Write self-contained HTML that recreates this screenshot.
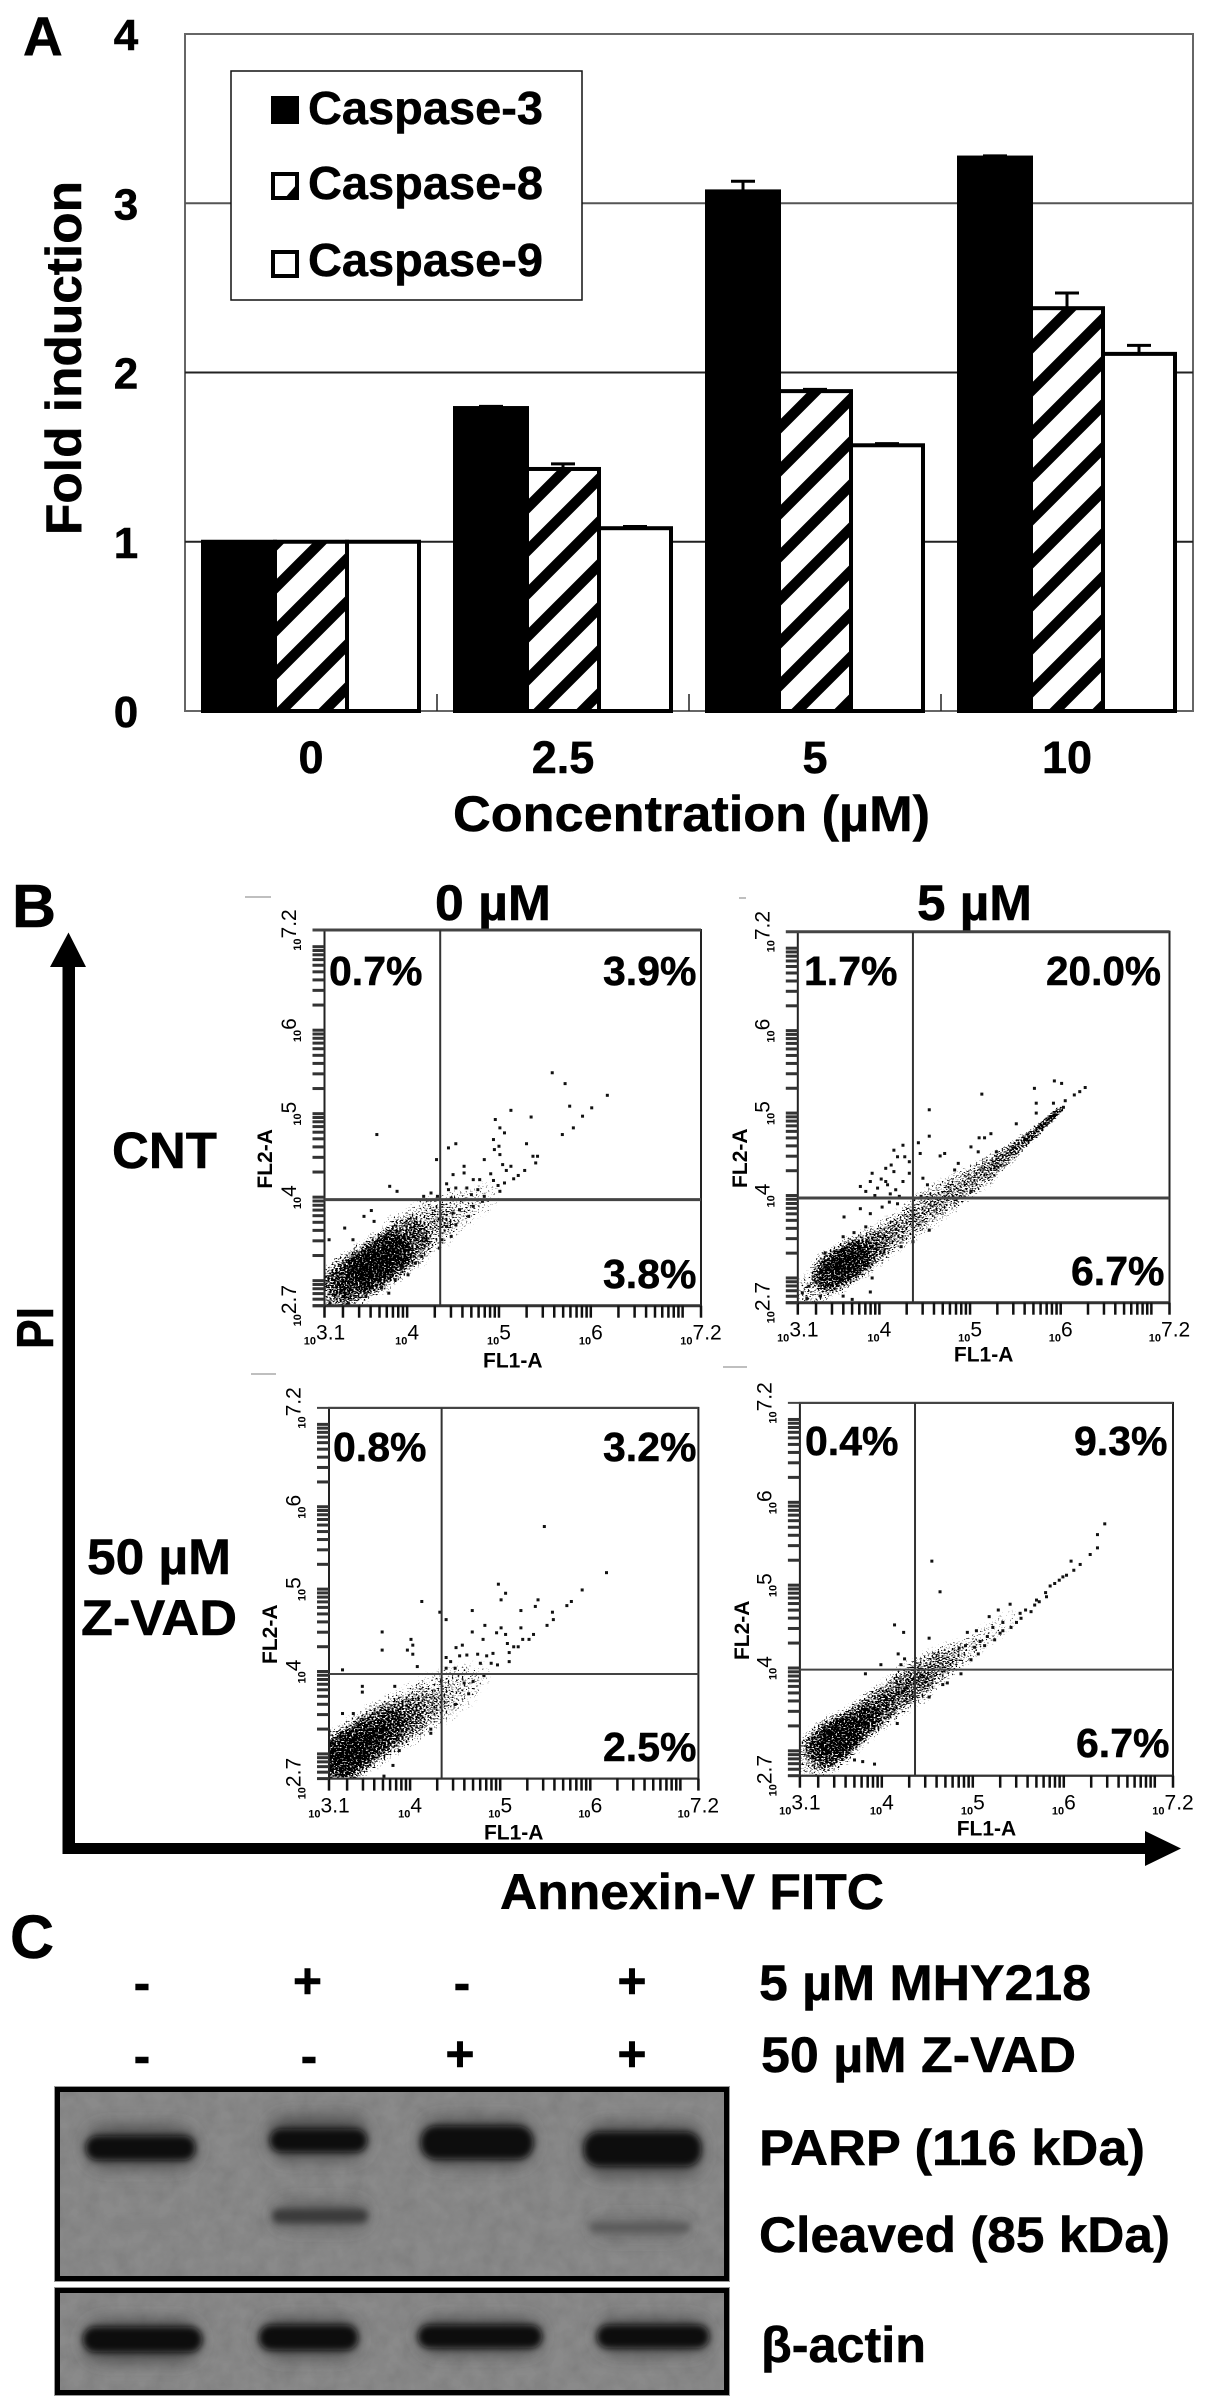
<!DOCTYPE html>
<html lang="en">
<head>
<meta charset="utf-8">
<title>Caspase induction, Annexin-V flow cytometry and PARP western blot</title>
<style>
html,body{margin:0;padding:0;background:#fff;}
svg{display:block;}
text{font-family:"Liberation Sans",Arial,sans-serif;font-weight:bold;fill:#000;stroke:#000;stroke-width:0.5px;}
#flowPlots text{stroke:none;}
.pct{font-size:41px;}
.blotlabel{font-size:50px;}
</style>
</head>
<body>
<svg id="figure" xmlns="http://www.w3.org/2000/svg" width="1205" height="2408" viewBox="0 0 1205 2408">
<defs>
<pattern id="hatch" patternUnits="userSpaceOnUse" width="43" height="43" patternTransform="translate(3 0)">
<rect width="43" height="43" fill="#fff"/>
<path d="M-10.75 10.75L10.75 -10.75M0 43L43 0M32.25 53.75L53.75 32.25" stroke="#000" stroke-width="10.5"/>
</pattern>
<radialGradient id="cloudFill">
<stop offset="0" stop-color="#000" stop-opacity="1"/>
<stop offset="0.6" stop-color="#000" stop-opacity="0.8"/>
<stop offset="1" stop-color="#000" stop-opacity="0"/>
</radialGradient>
<filter id="blur3" x="-30%" y="-100%" width="160%" height="300%"><feGaussianBlur stdDeviation="3.5"/></filter>
<filter id="blur9" x="-40%" y="-150%" width="180%" height="400%"><feGaussianBlur stdDeviation="9"/></filter>
<filter id="blotNoise" x="0" y="0" width="100%" height="100%" color-interpolation-filters="sRGB">
<feTurbulence type="fractalNoise" baseFrequency="0.06" numOctaves="3" seed="4"/>
<feColorMatrix values="0 0 0 0 0  0 0 0 0 0  0 0 0 0 0  1.2 0 0 0 -0.35"/>
</filter>
</defs>

<!-- Panel A -->
<g id="panel-a">
<text x="23" y="55" font-size="55">A</text>
<g id="barAxes"></g>
<g id="bars"></g>
<text transform="translate(81 358) rotate(-90)" text-anchor="middle" font-size="50" textLength="354" lengthAdjust="spacingAndGlyphs">Fold induction</text>
<text x="453" y="831" font-size="50" textLength="477" lengthAdjust="spacingAndGlyphs">Concentration (µM)</text>
<g>
<rect x="231" y="71" width="351" height="229" fill="#fff" stroke="#111" stroke-width="1.5"/>
<g>
<rect x="273" y="98" width="24" height="24" fill="#000" stroke="#000" stroke-width="4"/>
<text x="308" y="124" font-size="46" textLength="235" lengthAdjust="spacingAndGlyphs">Caspase-3</text>
</g>
<g>
<rect x="273" y="174" width="24" height="24" fill="#fff" stroke="#000" stroke-width="4"/>
<path d="M297 184L285 198L297 198Z" fill="#000"/>
<text x="308" y="199" font-size="46" textLength="235" lengthAdjust="spacingAndGlyphs">Caspase-8</text>
</g>
<g>
<rect x="273" y="252" width="24" height="24" fill="#fff" stroke="#000" stroke-width="4"/>
<text x="308" y="276" font-size="46" textLength="235" lengthAdjust="spacingAndGlyphs">Caspase-9</text>
</g>
</g>
</g>

<!-- Panel B -->
<g id="panel-b">
<text x="12" y="927" font-size="61">B</text>
<text x="435" y="920" font-size="50" textLength="116" lengthAdjust="spacingAndGlyphs">0 µM</text>
<text x="917" y="920" font-size="50" textLength="115" lengthAdjust="spacingAndGlyphs">5 µM</text>
<text x="112" y="1168" font-size="51" textLength="105" lengthAdjust="spacingAndGlyphs">CNT</text>
<text x="87" y="1574" font-size="50" textLength="144" lengthAdjust="spacingAndGlyphs">50 µM</text>
<text x="81" y="1635" font-size="50" textLength="156" lengthAdjust="spacingAndGlyphs">Z-VAD</text>
<path d="M62.5 967H50L68.5 932.5L86 967H75V1843H1145V1831L1181 1848.500L1145 1866V1854H62.500Z" fill="#000"/>
<text transform="translate(53 1349) rotate(-90)" font-size="52" textLength="42" lengthAdjust="spacingAndGlyphs">PI</text>
<text x="500" y="1909" font-size="50" textLength="384" lengthAdjust="spacingAndGlyphs">Annexin-V FITC</text>
<path d="M245 897H271M251 1374H276M739 898H746M723 1367H747" stroke="#aaa" stroke-width="1.5" fill="none"/>
<g id="flowPlots"></g>
<text class="pct" x="329" y="985">0.7%</text>
<text class="pct" x="603" y="985">3.9%</text>
<text class="pct" x="603" y="1288">3.8%</text>
<text class="pct" x="804" y="985">1.7%</text>
<text class="pct" x="1046" y="985" textLength="115" lengthAdjust="spacingAndGlyphs">20.0%</text>
<text class="pct" x="1071" y="1285">6.7%</text>
<text class="pct" x="333" y="1461">0.8%</text>
<text class="pct" x="603" y="1461">3.2%</text>
<text class="pct" x="603" y="1761">2.5%</text>
<text class="pct" x="805" y="1455">0.4%</text>
<text class="pct" x="1074" y="1455">9.3%</text>
<text class="pct" x="1076" y="1757">6.7%</text>
</g>

<!-- Panel C -->
<g id="panel-c">
<text x="10" y="1958" font-size="61">C</text>
<g font-size="50" text-anchor="middle">
<text x="142" y="2000">-</text>
<text x="307.500" y="1998">+</text>
<text x="462" y="2000">-</text>
<text x="632" y="1998">+</text>
<text x="142" y="2073">-</text>
<text x="309" y="2073">-</text>
<text x="460" y="2071">+</text>
<text x="632" y="2071">+</text>
</g>
<text class="blotlabel" x="759" y="2000" textLength="332" lengthAdjust="spacingAndGlyphs">5 µM MHY218</text>
<text class="blotlabel" x="761" y="2072" textLength="315" lengthAdjust="spacingAndGlyphs">50 µM Z-VAD</text>
<text class="blotlabel" x="759" y="2165" textLength="386" lengthAdjust="spacingAndGlyphs">PARP (116 kDa)</text>
<text class="blotlabel" x="759" y="2252" textLength="411" lengthAdjust="spacingAndGlyphs">Cleaved (85 kDa)</text>
<text class="blotlabel" x="761" y="2362" textLength="165" lengthAdjust="spacingAndGlyphs">β-actin</text>

<g>
<rect x="54" y="2086" width="676" height="196" fill="#999"/>
<rect x="55" y="2087" width="674" height="194" fill="#000"/>
<rect x="60" y="2092" width="664" height="184" fill="#8a8a8a"/>
<rect x="60" y="2092" width="664" height="184" filter="url(#blotNoise)" opacity="0.1"/>
<g filter="url(#blur9)" fill="#444">
<rect x="88" y="2128" width="106" height="38" rx="16"/>
<rect x="270" y="2118" width="96" height="40" rx="16"/>
<rect x="422" y="2120" width="110" height="44" rx="18"/>
<rect x="585" y="2126" width="116" height="48" rx="18"/>
<rect x="275" y="2202" width="92" height="26" rx="12" opacity="0.6"/>
<rect x="592" y="2218" width="96" height="20" rx="10" opacity="0.45"/>
</g>
<g filter="url(#blur3)">
<rect x="86" y="2136" width="109" height="24" rx="11" fill="#111"/>
<rect x="270" y="2129" width="97" height="23" rx="11" fill="#111"/>
<rect x="421" y="2126" width="112" height="33" rx="15" fill="#0f0f0f"/>
<rect x="584" y="2132" width="117" height="34" rx="15" fill="#0f0f0f"/>
<rect x="272" y="2209" width="96" height="14" rx="7" fill="#3a3a3a"/>
<rect x="590" y="2223" width="100" height="9" rx="4" fill="#5a5a5a"/>
<rect x="110" y="2220" width="70" height="9" rx="3" fill="#838383"/>
</g>
</g>

<g>
<rect x="54" y="2287" width="676" height="109" fill="#999"/>
<rect x="55" y="2288" width="674" height="107" fill="#000"/>
<rect x="60" y="2293" width="664" height="97" fill="#8a8a8a"/>
<rect x="60" y="2293" width="664" height="97" filter="url(#blotNoise)" opacity="0.1"/>
<g filter="url(#blur9)" fill="#444">
<rect x="86" y="2322" width="112" height="38" rx="16"/>
<rect x="262" y="2320" width="94" height="36" rx="16"/>
<rect x="421" y="2320" width="118" height="32" rx="14"/>
<rect x="600" y="2320" width="106" height="32" rx="14"/>
</g>
<g filter="url(#blur3)" fill="#111">
<rect x="83" y="2327" width="119" height="25" rx="12"/>
<rect x="259" y="2325" width="99" height="25" rx="12"/>
<rect x="418" y="2325" width="124" height="23" rx="11"/>
<rect x="597" y="2325" width="112" height="23" rx="11"/>
</g>
</g>
</g>
</svg>

<script>
/* ---------- Panel A data ---------- */
const concentrations = ["0", "2.5", "5", "10"];
const foldTicks = [0, 1, 2, 3, 4];
const caspase3 = [1, 1.79, 3.07, 3.27];
const caspase8 = [1, 1.43, 1.89, 2.38];
const caspase9 = [1, 1.08, 1.57, 2.11];
const caspase3Err = [0, 0.01, 0.06, 0.01];
const caspase8Err = [0, 0.03, 0.01, 0.09];
const caspase9Err = [0, 0.01, 0.01, 0.05];

/* ---------- Panel B data: events are [log10 FL1, log10 FL2] ---------- */
const xDecades = [3, 4, 5, 6];
const yDecades = [2, 3, 4, 5, 6];
const logMultipliers = [1, 2, 3, 4, 5, 6, 7, 8, 9];
const xTickLabels = ["3.1", "4", "5", "6", "7.2"];
const xTickValues = [3.1, 4, 5, 6, 7.2];
const yTickLabels = ["2.7", "4", "5", "6", "7.2"];
const yTickValues = [2.7, 4, 5, 6, 7.2];
const gateX = [4.36, 4.37, 4.35, 4.365];
const gateY = [3.97, 3.97, 3.97, 3.98];

const eventsCnt0 = [[5.58,5.49],[5.72,5.36],[6.18,5.22],[5.77,5.09],[6.01,5.07],[5.91,4.97],[5.13,5.04],[5.35,4.96],[4.96,4.93],[5.01,4.83],[5.06,4.77],[5.81,4.83],[5.69,4.75],[3.67,4.75],[4.94,4.69],[4.53,4.64],[4.45,4.59],[5.00,4.61],[4.95,4.57],[5.30,4.64],[5.42,4.49],[5.37,4.49],[5.40,4.41],[4.84,4.45],[5.01,4.51],[4.32,4.45],[5.04,4.39],[4.62,4.37],[4.62,4.29],[4.50,4.27],[5.13,4.37],[5.28,4.32],[4.91,4.28],[5.08,4.32],[5.21,4.26],[5.16,4.22],[4.72,4.21],[4.79,4.21],[4.94,4.20],[4.43,4.16],[4.53,4.11],[4.65,4.11],[4.99,4.14],[5.06,4.17],[3.81,4.13],[3.89,4.07],[4.26,4.05],[4.45,4.09],[4.77,4.09],[5.01,4.07],[4.70,4.03],[4.84,4.01],[4.18,4.01],[4.33,4.01],[4.48,3.99],[4.62,3.97],[4.82,3.95],[4.72,3.89],[4.57,3.85],[4.67,3.77],[4.50,3.81],[3.61,3.84],[3.53,3.77],[3.64,3.71],[3.32,3.63],[3.15,3.49],[3.41,3.49],[4.43,3.65],[4.53,3.67],[4.48,3.53],[4.38,3.49],[4.35,3.39],[4.16,3.29],[4.09,3.21],[4.01,3.07],[3.87,3.01],[3.80,2.85],[3.55,2.81],[3.36,2.73],[3.16,2.73],[3.72,2.91],[3.94,3.15]];
const cloudCnt0 = [[3.2,2.88,0.28,0.32,0.55],[3.4,3.02,0.32,0.36,0.8],[3.6,3.15,0.32,0.36,0.95],[3.8,3.3,0.32,0.36,0.95],[4.0,3.48,0.32,0.38,0.7],[4.25,3.68,0.32,0.36,0.42],[4.5,3.82,0.32,0.3,0.32],[4.8,3.97,0.28,0.2,0.2]];

const eventsCnt5 = [[5.13,5.23],[5.71,5.30],[5.93,5.39],[6.01,5.36],[6.27,5.31],[6.21,5.26],[6.15,5.22],[6.05,5.15],[6.03,5.07],[5.73,5.12],[5.92,5.12],[5.73,5.00],[4.55,5.04],[4.55,4.72],[5.23,4.75],[5.16,4.70],[5.10,4.70],[5.51,4.87],[4.43,4.64],[4.45,4.51],[4.72,4.51],[4.67,4.48],[5.01,4.59],[5.09,4.53],[4.26,4.61],[4.16,4.55],[4.20,4.47],[4.28,4.47],[4.33,4.41],[4.13,4.37],[4.07,4.33],[4.16,4.29],[3.92,4.27],[4.33,4.27],[4.26,4.17],[4.07,4.17],[3.90,4.17],[3.79,4.11],[3.85,4.05],[3.98,4.09],[4.09,4.13],[4.18,4.07],[4.48,4.21],[4.53,4.13],[4.46,3.99],[4.22,3.99],[4.11,3.92],[3.90,3.97],[4.03,3.86],[3.79,3.84],[3.61,3.74],[3.90,3.78],[3.90,2.83],[3.92,3.00],[4.24,3.38],[4.37,3.44],[4.55,3.58],[4.87,4.39],[4.83,4.31],[5.01,4.05],[5.29,4.53],[4.02,4.2],[4.12,4.02],[3.95,4.0],[4.2,3.9],[3.72,3.55],[3.6,3.5],[3.85,3.62],[3.4,3.3],[3.3,2.95],[3.22,2.9],[3.15,2.82],[3.2,2.75],[3.35,2.78],[3.6,2.78],[3.7,2.74]];
const cloudCnt5 = [[3.3,2.88,0.28,0.25,0.4],[3.5,3.08,0.3,0.3,0.9],[3.7,3.22,0.3,0.3,0.9],[3.9,3.36,0.3,0.27,0.6],[4.1,3.5,0.3,0.25,0.42],[4.3,3.65,0.3,0.25,0.38],[4.5,3.82,0.3,0.27,0.38],[4.7,3.96,0.3,0.25,0.38],[4.9,4.1,0.3,0.22,0.38],[5.1,4.24,0.28,0.2,0.38],[5.25,4.36,0.25,0.16,0.42],[5.4,4.48,0.25,0.13,0.5],[5.55,4.62,0.22,0.1,0.6],[5.7,4.75,0.2,0.08,0.7],[5.85,4.9,0.18,0.06,0.85],[5.95,5.0,0.12,0.05,0.9]];

const eventsZvad0 = [[5.49,5.76],[6.18,5.20],[4.98,5.06],[5.06,4.95],[5.01,4.87],[5.91,4.99],[5.42,4.87],[5.39,4.79],[5.79,4.85],[5.74,4.80],[4.13,4.85],[4.33,4.72],[4.40,4.63],[4.69,4.74],[5.23,4.74],[5.58,4.72],[5.59,4.63],[5.52,4.56],[4.83,4.56],[5.01,4.53],[4.96,4.47],[5.06,4.45],[5.23,4.53],[4.69,4.48],[5.37,4.45],[5.32,4.39],[5.25,4.39],[4.81,4.39],[3.69,4.48],[4.01,4.39],[4.03,4.32],[3.97,4.26],[4.03,4.21],[3.69,4.26],[5.08,4.34],[5.20,4.30],[5.15,4.30],[4.58,4.32],[4.51,4.29],[5.10,4.23],[4.92,4.22],[4.85,4.19],[4.75,4.21],[4.63,4.20],[4.55,4.19],[4.40,4.17],[4.45,4.12],[4.90,4.10],[4.97,4.08],[5.10,4.12],[4.78,4.10],[4.08,4.06],[3.25,4.02],[3.47,3.82],[3.47,3.75],[3.83,3.82],[3.25,3.49],[3.37,3.49],[4.23,3.25],[4.23,3.30],[3.88,3.04],[3.81,2.86],[3.71,2.73],[4.82,3.95],[4.70,3.88],[4.60,3.86],[4.50,3.60],[4.65,3.73],[4.40,4.04],[4.50,4.04]];
const cloudZvad0 = [[3.15,2.88,0.25,0.32,0.75],[3.3,3.0,0.3,0.38,0.95],[3.5,3.15,0.32,0.38,0.85],[3.7,3.3,0.32,0.38,0.7],[3.9,3.42,0.32,0.38,0.55],[4.1,3.55,0.32,0.36,0.42],[4.3,3.68,0.32,0.36,0.3],[4.5,3.8,0.3,0.32,0.25],[4.7,3.92,0.25,0.22,0.15]];

const eventsZvad5 = [[6.45,5.74],[6.37,5.61],[6.37,5.45],[6.29,5.37],[6.08,5.29],[6.18,5.25],[6.11,5.18],[5.99,5.10],[5.95,5.06],[5.85,4.99],[5.80,4.91],[5.81,4.86],[5.73,4.80],[5.64,4.68],[5.41,4.77],[5.28,4.70],[5.18,4.62],[5.52,4.66],[5.53,4.60],[5.33,4.55],[5.42,4.49],[5.48,4.55],[5.33,4.45],[5.22,4.49],[5.04,4.45],[4.94,4.43],[4.55,5.29],[4.64,4.92],[4.14,4.52],[4.24,4.43],[4.52,4.36],[4.18,4.17],[4.25,4.11],[4.21,4.04],[3.99,4.04],[3.82,3.93],[5.06,4.17],[4.98,4.10],[5.02,4.25],[5.24,4.34],[5.13,4.27],[3.92,2.84],[3.79,2.87],[3.70,2.89],[4.17,3.33],[4.87,3.93],[4.72,3.82],[4.67,3.80],[4.52,3.65],[5.9,5.02],[5.7,4.82],[5.58,4.7],[5.68,4.76],[6.03,5.12],[5.16,4.38],[5.3,4.42],[5.08,4.32],[4.92,4.27],[4.85,4.24]];
const cloudZvad5 = [[3.25,2.93,0.28,0.32,0.4],[3.4,3.05,0.3,0.34,0.8],[3.55,3.18,0.3,0.32,0.9],[3.75,3.33,0.32,0.28,0.8],[3.95,3.5,0.32,0.28,0.6],[4.15,3.66,0.32,0.28,0.5],[4.35,3.82,0.3,0.3,0.55],[4.55,3.98,0.3,0.26,0.45],[4.72,4.1,0.28,0.22,0.35],[4.9,4.2,0.28,0.18,0.25],[5.1,4.35,0.28,0.16,0.18],[5.3,4.5,0.28,0.14,0.15]];

const plotEvents = [eventsCnt0, eventsCnt5, eventsZvad0, eventsZvad5];
const plotClouds = [cloudCnt0, cloudCnt5, cloudZvad0, cloudZvad5];

/* ---------- Layout (not data) ---------- */
const SVGNS = "http://www.w3.org/2000/svg";
const barBox = {left: 185, right: 1193, top: 34, bottom: 711};
const flowBoxes = [
  {id: "cnt-0", left: 324.5, right: 701, top: 930, bottom: 1305.7, xTitleDrop: 62, yTitleShift: 41, yTitleGap: 52.5, gateWidth: 3},
  {id: "cnt-5", left: 797.8, right: 1169.5, top: 931.7, bottom: 1302.7, xTitleDrop: 59, yTitleShift: 41, yTitleGap: 50.8, gateWidth: 3},
  {id: "zvad-0", left: 329, right: 698.4, top: 1407.9, bottom: 1778.6, xTitleDrop: 61, yTitleShift: 41, yTitleGap: 52, gateWidth: 2},
  {id: "zvad-5", left: 799.9, right: 1173, top: 1402.9, bottom: 1775.7, xTitleDrop: 60, yTitleShift: 41, yTitleGap: 50.9, gateWidth: 2}
];

function make(tag, attrs, parent, content) {
  const el = document.createElementNS(SVGNS, tag);
  for (const key in attrs) el.setAttribute(key, attrs[key]);
  if (content !== undefined) el.textContent = content;
  parent.appendChild(el);
  return el;
}

/* ---------- Panel A drawing ---------- */
const foldY = v => barBox.bottom - v * (barBox.bottom - barBox.top) / 4;
const bandWidth = (barBox.right - barBox.left) / concentrations.length;
const bandCenter = i => barBox.left + (i + 0.5) * bandWidth;
const barAxes = document.getElementById("barAxes");
const barsLayer = document.getElementById("bars");

const plotFrame = make("rect", {x: barBox.left, y: barBox.top, width: barBox.right - barBox.left, height: barBox.bottom - barBox.top, fill: "#fff", stroke: "#666", "stroke-width": 2}, barAxes);



foldTicks.forEach(function (t) {
  if (t > 0 && t < 4) {
    const grid = make("line", {x1: barBox.left, x2: barBox.right, y1: foldY(t), y2: foldY(t), stroke: t === 3 ? "#555" : "#222", "stroke-width": 2}, barAxes);
    
    
  }
  const label = make("text", {x: 126, y: foldY(t) + 16, "text-anchor": "middle", "font-size": 44}, barAxes, String(t));
  
  
});

concentrations.forEach(function (c, i) {
  const label = make("text", {x: bandCenter(i), y: 773, "text-anchor": "middle", "font-size": 45}, barAxes, c);
  
  
  if (i > 0) {
    const tx = barBox.left + i * bandWidth;
    const tick = make("line", {x1: tx, x2: tx, y1: barBox.bottom - 17, y2: barBox.bottom, stroke: "#222", "stroke-width": 1.5}, barAxes);
    
    
  }
});

const barSeries = [
  {key: "caspase-3", values: caspase3, errs: caspase3Err, fill: "#000"},
  {key: "caspase-8", values: caspase8, errs: caspase8Err, fill: "url(#hatch)"},
  {key: "caspase-9", values: caspase9, errs: caspase9Err, fill: "#fff"}
];
const barWidth = 72;
barSeries.forEach(function (s, si) {
  s.values.forEach(function (v, i) {
    const x = bandCenter(i) - 108 + si * barWidth;
    const cx = x + barWidth / 2;
    if (s.errs[i] > 0) {
      const err = make("path", {d: "M" + cx + " " + foldY(v) + "V" + foldY(v + s.errs[i]) + "M" + (cx - 12) + " " + foldY(v + s.errs[i]) + "H" + (cx + 12), stroke: "#000", "stroke-width": 3, fill: "none"}, barsLayer);
      
      
    }
    const bar = make("rect", {x: x, y: foldY(v), width: barWidth, height: foldY(0) - foldY(v), fill: s.fill, stroke: "#000", "stroke-width": 4}, barsLayer);
    
    
  });
});

/* ---------- Panel B drawing ---------- */
const flowRoot = document.getElementById("flowPlots");
const defsEl = document.querySelector("svg defs");

flowBoxes.forEach(function (box, p) {
  const fx = v => box.left + (v - 3.1) * (box.right - box.left) / 4.1;
  const fy = v => box.bottom - (v - 2.7) * (box.bottom - box.top) / 4.5;
  const g = make("g", {}, flowRoot);
  
  

  /* speckle filter for the dense event cloud */
  const filter = make("filter", {id: "speckle" + p, filterUnits: "userSpaceOnUse", x: box.left, y: box.top, width: box.right - box.left, height: box.bottom - box.top, "color-interpolation-filters": "sRGB"}, defsEl);
  make("feTurbulence", {type: "fractalNoise", baseFrequency: "0.5 0.7", numOctaves: 2, seed: 3 + p * 7, result: "n"}, filter);
  make("feColorMatrix", {in: "n", values: "0 0 0 0 0  0 0 0 0 0  0 0 0 0 0  2.2 0 0 0 -0.6", result: "na"}, filter);
  make("feComposite", {in: "SourceGraphic", in2: "na", operator: "arithmetic", k1: 0, k2: 1, k3: 1, k4: -1.0, result: "m"}, filter);
  const ct = make("feComponentTransfer", {in: "m"}, filter);
  make("feFuncA", {type: "linear", slope: 6, intercept: 0}, ct);

  const clip = make("clipPath", {id: "plotClip" + p}, defsEl);
  make("rect", {x: box.left, y: box.top, width: box.right - box.left, height: box.bottom - box.top}, clip);

  const clipGroup = make("g", {"clip-path": "url(#plotClip" + p + ")"}, g);
  
  
  const cloudGroup = make("g", {filter: "url(#speckle" + p + ")"}, clipGroup);
  
  
  plotClouds[p].forEach(function (c) {
    const sx = (box.right - box.left) / 4.1, sy = (box.bottom - box.top) / 4.5;
    const blob = make("ellipse", {cx: fx(c[0]), cy: fy(c[1]), rx: c[2] * sx, ry: c[3] * sy, fill: "url(#cloudFill)", opacity: c[4], transform: "rotate(-40 " + fx(c[0]) + " " + fy(c[1]) + ")"}, cloudGroup);
    
    
  });
  plotEvents[p].forEach(function (e) {
    const dot = make("rect", {x: fx(e[0]) - 1.5, y: fy(e[1]) - 1.5, width: 3, height: 3, fill: "#111"}, clipGroup);
    
    
  });

  /* frame */
  const frame = make("rect", {x: box.left, y: box.top, width: box.right - box.left, height: box.bottom - box.top, fill: "none", stroke: "#222", "stroke-width": 2}, g);
  
  
  const topEdge = make("line", {x1: box.left - 12, x2: box.right, y1: box.top, y2: box.top, stroke: "#444", "stroke-width": box.gateWidth}, g);
  
  
  const bottomEdge = make("line", {x1: box.left - 12, x2: box.right, y1: box.bottom, y2: box.bottom, stroke: "#333", "stroke-width": box.gateWidth}, g);
  
  

  /* gates */
  const vGate = make("line", {x1: fx(gateX[p]), x2: fx(gateX[p]), y1: box.top, y2: box.bottom, stroke: "#333", "stroke-width": 2}, g);
  
  
  const hGate = make("line", {x1: box.left, x2: box.right, y1: fy(gateY[p]), y2: fy(gateY[p]), stroke: "#444", "stroke-width": box.gateWidth}, g);
  
  

  /* log ticks */
  const xTickGroup = make("g", {stroke: "#111", "stroke-width": 2.5}, g);
  
  
  const xMarks = [3.1, 7, 7.2];
  xDecades.forEach(function (d) {
    logMultipliers.forEach(function (m) {
      const v = d + Math.log10(m);
      if (v > 3.1 && v < 7) xMarks.push(v);
    });
  });
  xMarks.forEach(function (v) {
    const mark = make("line", {x1: fx(v), x2: fx(v), y1: box.bottom, y2: box.bottom + 12}, xTickGroup);
    
    
  });

  const yTickGroup = make("g", {stroke: "#333", "stroke-width": 3}, g);
  
  
  const yMarks = [2.7, 7];
  yDecades.forEach(function (d) {
    logMultipliers.forEach(function (m) {
      const v = d + Math.log10(m);
      if (v > 2.7 && v < 7) yMarks.push(v);
    });
  });
  yMarks.forEach(function (v) {
    const mark = make("line", {x1: box.left - 12, x2: box.left, y1: fy(v), y2: fy(v)}, yTickGroup);
    
    
  });

  /* tick labels */
  xTickLabels.forEach(function (lab, i) {
    const t = make("text", {x: fx(xTickValues[i]), y: box.bottom + 39, "text-anchor": "middle", "font-size": 11, fill: "#222"}, g);
    make("tspan", {}, t, "10");
    make("tspan", {"font-size": 21, dy: -5, "font-weight": "normal"}, t, lab);
    
    
  });
  yTickLabels.forEach(function (lab, i) {
    const t = make("text", {transform: "translate(" + (box.left - 23.5) + " " + fy(yTickValues[i]) + ") rotate(-90)", "text-anchor": "middle", "font-size": 11, fill: "#222"}, g);
    make("tspan", {}, t, "10");
    make("tspan", {"font-size": 21, dy: -5, "font-weight": "normal"}, t, lab);
    
    
  });

  /* axis titles */
  const xTitle = make("text", {x: (box.left + box.right) / 2, y: box.bottom + box.xTitleDrop, "text-anchor": "middle", "font-size": 21, fill: "#222"}, g, "FL1-A");
  
  
  const midY = (box.top + box.bottom) / 2 + box.yTitleShift;
  const yTitle = make("text", {transform: "translate(" + (box.left - box.yTitleGap) + " " + midY + ") rotate(-90)", "text-anchor": "middle", "font-size": 21, fill: "#222"}, g, "FL2-A");
  
  
});
</script>
</body>
</html>
